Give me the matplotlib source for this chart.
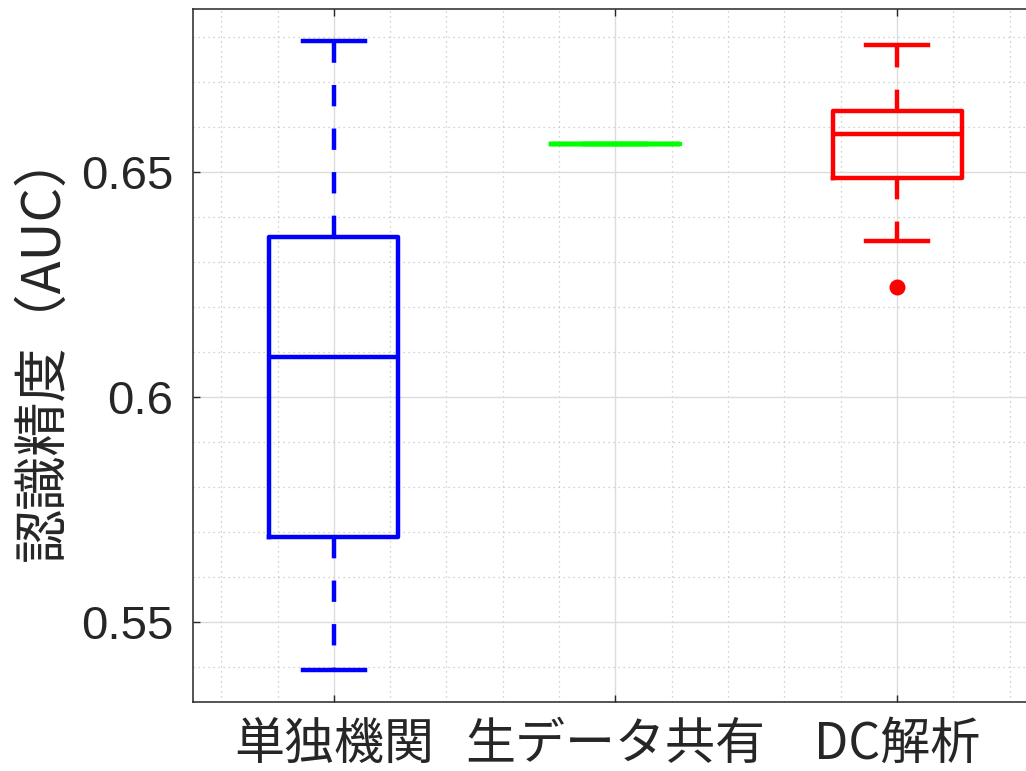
import matplotlib
matplotlib.use('Agg')
import matplotlib.pyplot as plt
from matplotlib.ticker import MultipleLocator, FixedLocator

# data (AUC per method)
labels = ['単独機関', '生データ共有', 'DC解析']
colors = ['#0000ff', '#00ff00', '#ff0000']
whis_lo = [0.5394, 0.6562, 0.6347]
q1 = [0.5690, 0.6562, 0.6487]
med = [0.6089, 0.6562, 0.6584]
q3 = [0.6356, 0.6562, 0.6635]
whis_hi = [0.6790, 0.6562, 0.6782]
fliers = [[], [], [0.6245]]

yticks = [0.55, 0.6, 0.65]
ytick_labels = ['0.55', '0.6', '0.65']
ylabel = '認識精度（AUC）'

txt = '#262626'
cjk = ['Liberation Sans', 'Noto Sans CJK JP', 'DejaVu Sans']
plt.rcParams['font.family'] = cjk

fig = plt.figure(figsize=(10.26, 7.71), dpi=100)
ax = fig.add_axes([193 / 1026, 1 - 702 / 771, (1038 - 193) / 1026, (702 - 9) / 771])

stats = []
for i in range(len(labels)):
    stats.append(dict(med=med[i], q1=q1[i], q3=q3[i], whislo=whis_lo[i],
                      whishi=whis_hi[i], fliers=fliers[i]))

pos = [1, 2, 3]
res = ax.bxp(stats, positions=pos, widths=0.457, capwidths=0.22,
             showfliers=True, patch_artist=False)

lw = 3.2
for i, c in enumerate(colors):
    b = res['boxes'][i]
    b.set_color(c)
    b.set_linewidth(lw)
    b.set_solid_joinstyle('round')
    res['medians'][i].set_color(c)
    res['medians'][i].set_linewidth(lw)
    for k in (2 * i, 2 * i + 1):
        w = res['whiskers'][k]
        w.set_color(c)
        w.set_linewidth(lw)
        w.set_linestyle((0, (4.8, 5.0)))
        w.set_dash_capstyle('butt')
        cp = res['caps'][k]
        cp.set_color(c)
        cp.set_linewidth(lw)
    f = res['fliers'][i]
    f.set_marker('o')
    f.set_markersize(11.5)
    f.set_markerfacecolor(c)
    f.set_markeredgecolor(c)
    f.set_markeredgewidth(0)
# green series is a single value: keep only the median visible on top
res['medians'][1].set_zorder(5)

ax.set_xlim(0.5, 3.5)
ax.set_ylim(0.5323, 0.6862)

ax.set_xticks(pos)
ax.set_xticklabels(labels, family=['Noto Sans CJK JP', 'DejaVu Sans'], fontsize=36, color=txt)
ax.set_yticks(yticks)
ax.set_yticklabels(ytick_labels, fontsize=34, color=txt)
ax.xaxis.set_minor_locator(FixedLocator([x / 10 for x in range(6, 35, 2) if x % 10 != 0]))
ax.yaxis.set_minor_locator(MultipleLocator(0.01))

ax.grid(True, which='major', color='#dcdcdc', linewidth=1.0, linestyle='-')
ax.grid(True, which='minor', color='#c4c4c4', linewidth=0.9, linestyle=(0, (1, 3)))
ax.set_axisbelow(True)

ax.tick_params(which='major', direction='in', length=5, width=1.0, color=txt,
               top=True, right=True)
ax.tick_params(axis='x', which='major', pad=12)
ax.tick_params(axis='y', which='major', pad=14)
ax.tick_params(which='minor', length=0)

for s in ax.spines.values():
    s.set_color(txt)
    s.set_linewidth(1.1)

ax.set_ylabel(ylabel, family=['Noto Sans CJK JP', 'DejaVu Sans'], fontsize=39, color=txt)
ax.yaxis.set_label_coords(-0.145, 0.515)

fig.savefig('out.png', dpi=100)
